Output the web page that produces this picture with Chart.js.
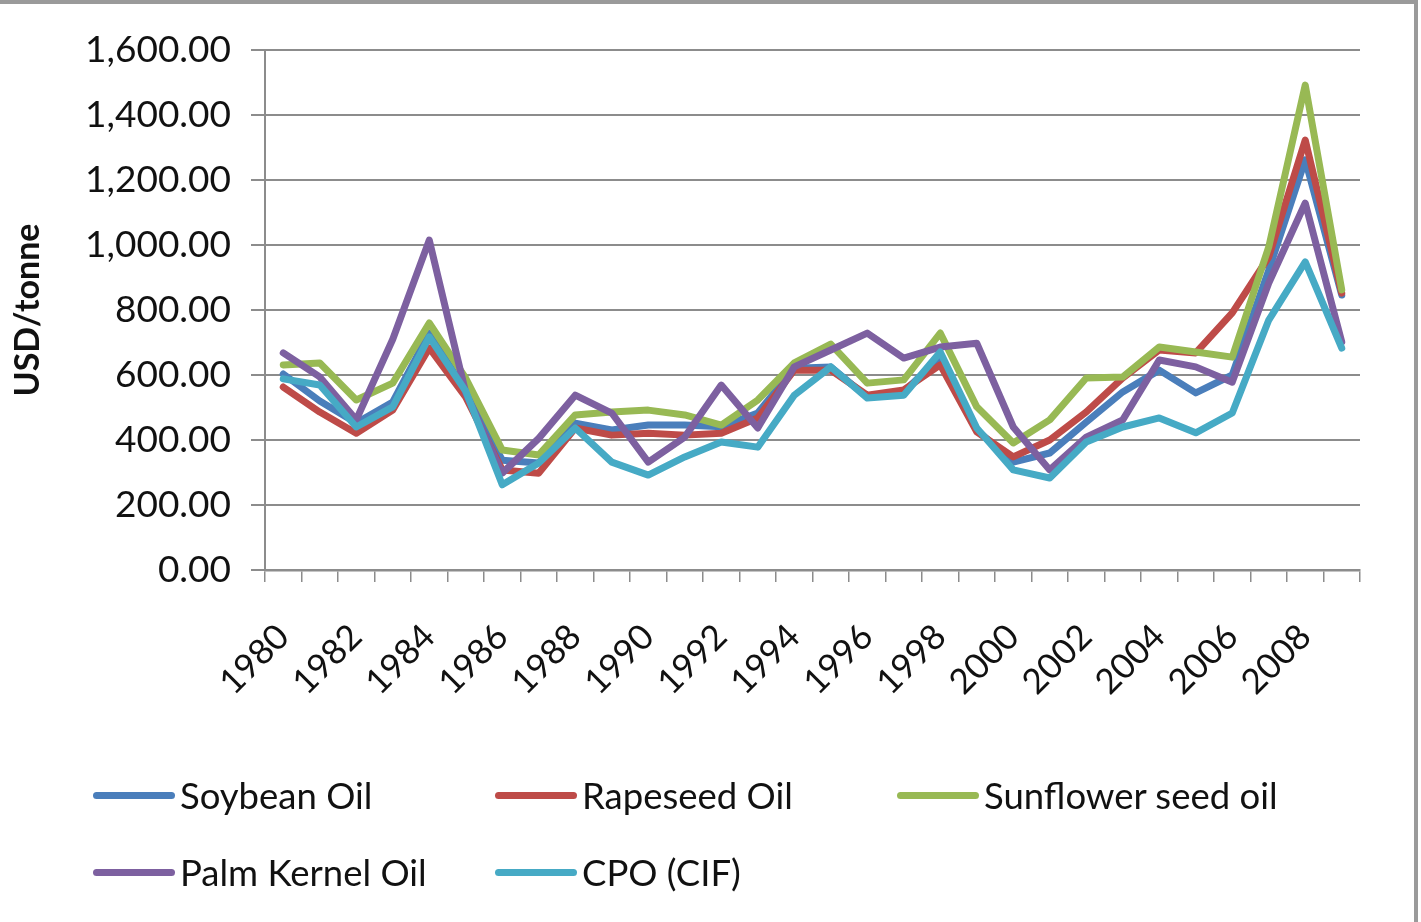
<!DOCTYPE html>
<html>
<head>
<meta charset="utf-8">
<script src="https://cdn.jsdelivr.net/npm/chart.js@4/dist/chart.umd.min.js"></script>
<style>
  body { margin: 0; background: #fff; }
  #wrap { position: relative; width: 1421px; height: 922px; overflow: hidden; }
  #frameTop { position: absolute; left: 0; top: 0; width: 1418px; height: 4px; background: #9a9a9a; }
  #frameRight { position: absolute; left: 1414px; top: 0; width: 4px; height: 922px; background: #9a9a9a; }
  .item { position: absolute; height: 40px; display: flex; align-items: center; font-family: Lato, "Liberation Sans", sans-serif; font-size: 36.5px; color: #111; white-space: nowrap; }
  .swatch { width: 82px; height: 7px; border-radius: 4px; margin-right: 5px; }
</style>
</head>
<body>
<div id="wrap">
  <canvas id="chart" width="1421" height="922"></canvas>
  <div id="legend"></div>
  <div id="frameTop"></div>
  <div id="frameRight"></div>
</div>
<script>
const years = [];
for (let y = 1980; y <= 2009; y++) years.push(String(y));

const soybean   = [603, 520, 452, 517, 729, 550, 338, 329, 452, 431, 446, 446, 441, 483, 621, 625, 532, 548, 655, 431, 332, 360, 455, 548, 615, 545, 600, 923, 1262, 846];
const rapeseed  = [563, 486, 421, 492, 683, 532, 308, 298, 437, 415, 421, 415, 421, 468, 615, 615, 538, 554, 631, 425, 348, 400, 486, 591, 677, 668, 791, 963, 1323, 852];
const sunflower = [631, 637, 523, 575, 760, 590, 369, 354, 477, 486, 492, 477, 446, 523, 637, 695, 575, 585, 729, 502, 391, 462, 591, 594, 686, 671, 655, 994, 1492, 862];
const palmKernel = [668, 594, 462, 710, 1015, 545, 298, 405, 538, 483, 332, 409, 569, 437, 625, 677, 729, 652, 686, 698, 440, 308, 409, 462, 646, 625, 578, 883, 1129, 702];
const cpo       = [588, 569, 440, 502, 717, 550, 262, 329, 437, 332, 292, 348, 394, 378, 538, 625, 529, 538, 671, 437, 308, 283, 394, 440, 468, 422, 483, 769, 948, 683];

const seriesNames = ['Soybean Oil', 'Rapeseed Oil', 'Sunflower seed oil', 'Palm Kernel Oil', 'CPO (CIF)'];
const seriesData = [soybean, rapeseed, sunflower, palmKernel, cpo];
const colors = ['#4a7ebb', '#be4b48', '#98b954', '#7d60a0', '#46aac5'];

const font = 'Lato';

const datasets = seriesNames.map((name, i) => ({
  label: name,
  data: seriesData[i],
  borderColor: colors[i],
  backgroundColor: colors[i],
  borderWidth: 7,
  pointRadius: 0,
  tension: 0,
  borderJoinStyle: 'round',
  borderCapStyle: 'round',
  order: seriesNames.length - i
}));

new Chart(document.getElementById('chart'), {
  type: 'line',
  data: { labels: years, datasets: datasets },
  options: {
    responsive: false,
    animation: false,
    layout: { padding: { left: 0, top: 50, right: 61, bottom: 202 } },
    plugins: { legend: { display: false }, tooltip: { enabled: false } },
    scales: {
      x: {
        offset: true,
        grid: { offset: true, drawOnChartArea: false, drawTicks: true, tickLength: 12, color: '#8c8c8c', lineWidth: 1.5 },
        border: { color: '#8c8c8c', width: 2.5 },
        ticks: {
          autoSkip: false,
          minRotation: 45,
          maxRotation: 45,
          padding: 34,
          color: '#111',
          font: { family: font, size: 35 },
          callback: (v, i) => (i % 2 === 0 ? years[i] : '')
        },
        afterFit: s => { s.height = 150; }
      },
      y: {
        min: 0,
        max: 1600,
        grid: { color: '#8c8c8c', lineWidth: 2, tickLength: 14 },
        border: { color: '#8c8c8c', width: 2 },
        ticks: {
          stepSize: 200,
          padding: 20,
          color: '#111',
          font: { family: font, size: 37 },
          callback: v => v.toLocaleString('en-US', { minimumFractionDigits: 2, maximumFractionDigits: 2 })
        },
        title: {
          display: true,
          text: 'USD/tonne',
          color: '#111',
          font: { family: font, size: 34, weight: 'bold' },
          padding: { top: 8, bottom: 0 }
        },
        afterFit: s => { s.width = 265; }
      }
    }
  }
});

// legend laid out like the original: three columns, two rows
const legend = document.getElementById('legend');
const cols = [93, 495, 897];
const rows = [795, 872];
seriesNames.forEach((name, i) => {
  const item = document.createElement('div');
  item.className = 'item';
  item.style.left = cols[i % 3] + 'px';
  item.style.top = (rows[Math.floor(i / 3)] - 20) + 'px';
  const sw = document.createElement('div');
  sw.className = 'swatch';
  sw.style.background = colors[i];
  item.appendChild(sw);
  item.appendChild(document.createTextNode(name));
  legend.appendChild(item);
});
</script>
</body>
</html>
